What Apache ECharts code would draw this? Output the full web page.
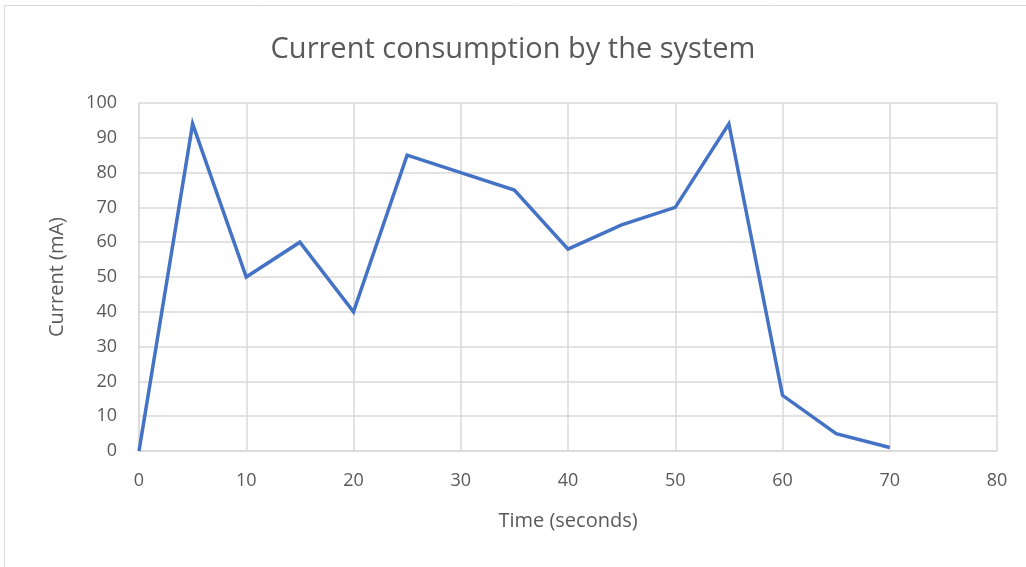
<!DOCTYPE html>
<html>
<head>
<meta charset="utf-8">
<title>Current consumption by the system</title>
<script src="https://cdn.jsdelivr.net/npm/echarts@6/dist/echarts.min.js"></script>
<style>
  html, body { margin: 0; padding: 0; background: #fff; }
  #chart { width: 1026px; height: 567px; }
</style>
</head>
<body>
<div id="chart"></div>
<script>
// time in seconds and current in mA
const timeSec = [0, 5, 10, 15, 20, 25, 30, 35, 40, 45, 50, 55, 60, 65, 70];
const currentMa = [0, 94, 50, 60, 40, 85, 80, 75, 58, 65, 70, 94, 16, 5, 1];

const textColor = "#595959";
const gridColor = "#d9d9d9";
const font = "'Open Sans', 'Noto Sans', sans-serif";

const chart = echarts.init(document.getElementById("chart"));

chart.setOption({
  animation: false,
  backgroundColor: "#fff",
  title: {
    text: "Current consumption by the system",
    left: "center",
    top: 30,
    textStyle: { color: textColor, fontSize: 29, fontWeight: "normal", fontFamily: font },
  },
  graphic: [
    {
      type: "rect",
      shape: { x: 4.5, y: 5.5, width: 1040, height: 600 },
      style: { fill: "none", stroke: "#d9d9d9", lineWidth: 1 },
      silent: true,
    },
  ],
  grid: { left: 139, right: 29, top: 103, bottom: 116 },
  xAxis: {
    type: "value",
    min: 0,
    max: 80,
    interval: 10,
    name: "Time (seconds)",
    nameLocation: "middle",
    nameGap: 60,
    nameTextStyle: { color: textColor, fontSize: 20, fontFamily: font },
    axisLine: { show: true, lineStyle: { color: gridColor, width: 1.5 } },
    axisTick: { show: false },
    axisLabel: { color: textColor, fontSize: 18, fontFamily: font, margin: 21 },
    splitLine: { show: true, lineStyle: { color: gridColor, width: 1.5 } },
  },
  yAxis: {
    type: "value",
    min: 0,
    max: 100,
    interval: 10,
    name: "Current (mA)",
    nameLocation: "middle",
    nameGap: 72,
    nameRotate: 90,
    nameTextStyle: { color: textColor, fontSize: 20, fontFamily: font },
    axisLine: { show: true, lineStyle: { color: gridColor, width: 1.5 } },
    axisTick: { show: false },
    axisLabel: { color: textColor, fontSize: 18, fontFamily: font, margin: 22 },
    splitLine: { show: true, lineStyle: { color: gridColor, width: 1.5 } },
  },
  series: [
    {
      type: "line",
      data: timeSec.map((t, i) => [t, currentMa[i]]),
      showSymbol: false,
      lineStyle: { color: "#4472C4", width: 3.5, join: "miter" },
      itemStyle: { color: "#4472C4" },
    },
  ],
});
</script>
</body>
</html>
